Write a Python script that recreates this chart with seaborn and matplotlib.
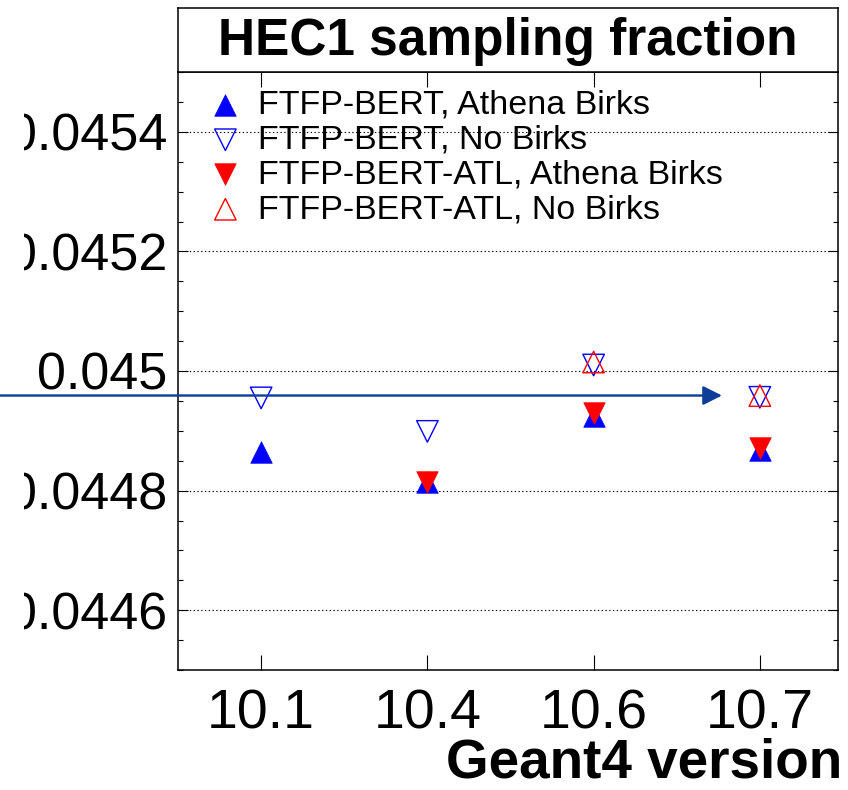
import numpy as np
import pandas as pd
import matplotlib
matplotlib.use("Agg")
import matplotlib.pyplot as plt
import seaborn as sns
from matplotlib.ticker import AutoMinorLocator
from matplotlib.transforms import Bbox
from matplotlib.patches import ArrowStyle

# Geant4 versions and HEC1 sampling fraction for each physics list / Birks setting
versions = ["10.1", "10.4", "10.6", "10.7"]
bert_athena_birks = [0.044865, 0.044815, 0.044924, 0.044868]
bert_no_birks = [0.044955, 0.044899, 0.045010, 0.044956]
atl_athena_birks = [np.nan, 0.044814, 0.044930, 0.044872]
atl_no_birks = [np.nan, np.nan, 0.045015, 0.044959]

# reference level marked by the arrow
reference_level = 0.044959

yticks = [0.0446, 0.0448, 0.045, 0.0452, 0.0454]
ytick_labels = ["0.0446", "0.0448", "0.045", "0.0452", "0.0454"]

sns.set_theme(style="white")
plt.rcParams["font.family"] = ["Liberation Sans", "DejaVu Sans"]
plt.rcParams.update({"text.color": "black", "axes.labelcolor": "black",
                     "xtick.color": "black", "ytick.color": "black"})

W, H = 848, 790
fig = plt.figure(figsize=(W / 100, H / 100), dpi=100)
L, R, T, B = 178, 838, 72, 670
ax = fig.add_axes([L / W, 1 - B / H, (R - L) / W, (B - T) / H])

series = [
    ("FTFP-BERT, Athena Birks", bert_athena_birks, "^", "blue", True),
    ("FTFP-BERT, No Birks", bert_no_birks, "v", "blue", False),
    ("FTFP-BERT-ATL, Athena Birks", atl_athena_birks, "v", "red", True),
    ("FTFP-BERT-ATL, No Birks", atl_no_birks, "^", "red", False),
]
for label, vals, marker, color, filled in series:
    df = pd.DataFrame({"version": versions, "fraction": vals})
    sns.scatterplot(
        data=df, x="version", y="fraction", marker=marker, s=240,
        facecolor=color if filled else "none", edgecolor=color,
        linewidth=0.5 if filled else 1.0, label=label, legend=False, ax=ax,
    )

ax.set_xlim(-0.5, 3.47)
ax.set_ylim(0.0445, 0.0455)
ax.set_yticks(yticks)
ax.set_yticklabels(ytick_labels)
ax.yaxis.set_minor_locator(AutoMinorLocator(4))

ax.tick_params(axis="both", which="both", direction="in", top=True, right=True,
               bottom=True, left=True, color="black", labelcolor="black")
ax.tick_params(axis="y", which="major", length=7, width=0.8, labelsize=37.5, pad=8)
ax.tick_params(axis="y", which="minor", length=3.6, width=0.8)
ax.tick_params(axis="x", which="major", length=11, width=0.8, labelsize=40, pad=13)
ax.tick_params(axis="x", which="minor", bottom=False, top=False)

ax.yaxis.grid(True, color="black", linestyle=(0, (1.2, 2.2)), linewidth=0.8)
ax.xaxis.grid(False)
for sp in ax.spines.values():
    sp.set_visible(True)
    sp.set_color("black")
    sp.set_linewidth(1.1)

ax.set_ylabel("")
ax.set_xlabel("Geant4 version", fontsize=39.5, fontweight="bold", color="black",
              ha="right", va="baseline")
ax.xaxis.set_label_coords((842 - L) / (R - L), -(777 - B) / (B - T))

leg = ax.legend(loc="upper left", bbox_to_anchor=(0.046, 0.970), frameon=False,
                fontsize=24.5, handlelength=1.0, handletextpad=0.45, labelspacing=0.11,
                borderpad=0, borderaxespad=0, scatterpoints=1)
for txt in leg.get_texts():
    txt.set_color("black")

# arrow marking the reference level, starting at the left edge of the canvas
ax.annotate(
    "", xy=(2.772, reference_level), xycoords="data",
    xytext=(0, reference_level), textcoords=("figure fraction", "data"),
    arrowprops=dict(arrowstyle=ArrowStyle("-|>", head_length=11.5, head_width=5.8),
                    mutation_scale=1, color="#0b3d99", lw=1.7, shrinkA=0, shrinkB=0),
    annotation_clip=False,
)

# title box above the frame
tax = fig.add_axes([L / W, 1 - T / H, (R - L) / W, (T - 8) / H])
tax.set_xticks([])
tax.set_yticks([])
tax.set_facecolor("white")
for sp in tax.spines.values():
    sp.set_visible(True)
    sp.set_color("black")
    sp.set_linewidth(1.1)
tax.text(0.5, (T - 55) / (T - 8), "HEC1 sampling fraction", ha="center", va="baseline",
         fontsize=37, fontweight="bold", color="black", transform=tax.transAxes)

# the canvas cuts the axis labels short on the left
clip = Bbox.from_extents(24, 0, W, H)
for t in ax.get_yticklabels():
    t.set_clip_box(clip)
    t.set_clip_on(True)

fig.savefig("out.png", dpi=100, facecolor="white")
